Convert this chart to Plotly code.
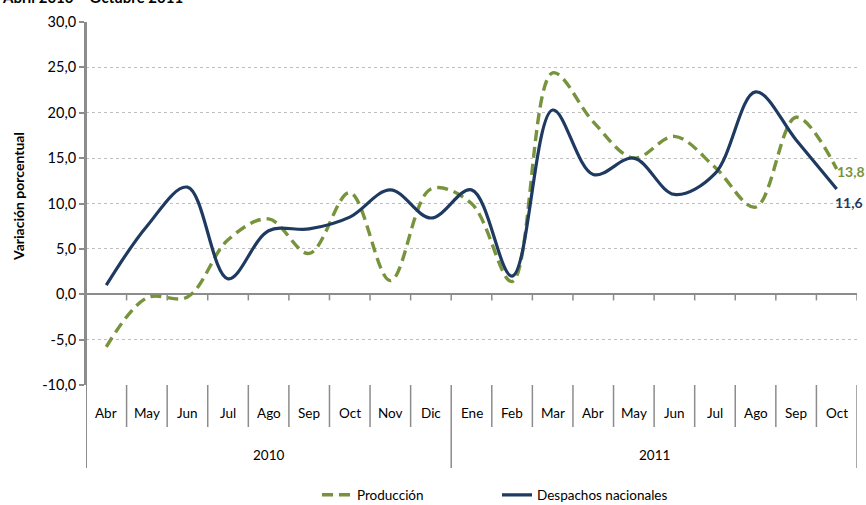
import plotly.graph_objects as go

months = ["Abr", "May", "Jun", "Jul", "Ago", "Sep", "Oct", "Nov", "Dic",
          "Ene", "Feb", "Mar", "Abr", "May", "Jun", "Jul", "Ago", "Sep", "Oct"]
years = ["2010", "2011"]
year_counts = [9, 10]
produccion = [-5.8, -0.4, -0.3, 6.0, 8.3, 4.5, 11.2, 1.5, 11.6, 10.0, 1.4,
              24.4, 19.0, 15.0, 17.4, 14.0, 9.6, 19.5, 13.8]
despachos = [1.0, 7.5, 11.8, 1.7, 7.0, 7.2, 8.5, 11.5, 8.4, 11.5, 2.0,
             20.3, 13.2, 15.0, 11.0, 13.3, 22.3, 17.0, 11.6]
y_ticks = [-10, -5, 0, 5, 10, 15, 20, 25, 30]

GREEN = "#77933C"
NAVY = "#1F3A60"
GRAY = "#8C8C8C"
FONT = "Lato"

W, H = 866, 505
L, R, T, B = 86, 9, 22, 120
ph = H - T - B


def py(p):
    return (H - B - p) / ph


x = list(range(len(months)))

fig = go.Figure()
fig.add_trace(go.Scatter(
    x=x, y=produccion, mode="lines", name="Producción",
    line=dict(color=GREEN, width=3.4, dash="11px,6px", shape="spline", smoothing=1.0)))
fig.add_trace(go.Scatter(
    x=x, y=despachos, mode="lines", name="Despachos nacionales",
    line=dict(color=NAVY, width=3.2, shape="spline", smoothing=1.0)))

shapes = []
n = len(months)
for k in range(n):
    shapes.append(dict(type="line", xref="x", yref="y", x0=k + 0.5, x1=k + 0.5,
                       y0=0, y1=-0.68, line=dict(color=GRAY, width=1.5)))
year_bounds = [-0.5]
acc = -0.5
for c in year_counts:
    acc += c
    year_bounds.append(acc)
for k in range(1, n + 1):
    b = k - 0.5
    is_year = any(abs(b - yb) < 1e-9 for yb in year_bounds)
    shapes.append(dict(type="line", xref="x", yref="paper", x0=b, x1=b,
                       y0=0, y1=py(468 if is_year else 427),
                       line=dict(color=GRAY, width=1.5)))
shapes.append(dict(type="line", xref="x", yref="paper", x0=-0.5, x1=-0.5,
                   y0=1, y1=py(468), line=dict(color=GRAY, width=2)))

annotations = []
for i, m in enumerate(months):
    annotations.append(dict(x=i, y=py(413), xref="x", yref="paper", text=m,
                            xanchor="center", yanchor="middle",
                            showarrow=False, font=dict(family=FONT, size=13.5, color="#000000")))
start = 0
for yr, c in zip(years, year_counts):
    annotations.append(dict(x=start + (c - 1) / 2, y=py(455), xref="x", yref="paper",
                            text=yr, showarrow=False, xanchor="center", yanchor="middle",
                            font=dict(family=FONT, size=13.5, color="#000000")))
    start += c

annotations.append(dict(x=x[-1], y=produccion[-1], xref="x", yref="y",
                        text="<b>13,8</b>", showarrow=False, xanchor="left", yanchor="middle",
                        xshift=-2, yshift=-2,
                        font=dict(family=FONT, size=14, color=GREEN)))
annotations.append(dict(x=x[-1], y=despachos[-1], xref="x", yref="y",
                        text="<b>11,6</b>", showarrow=False, xanchor="left", yanchor="middle",
                        xshift=-4, yshift=-14,
                        font=dict(family=FONT, size=14, color=NAVY)))
annotations.append(dict(x=(18 - L) / (W - L - R), y=py(197), xref="paper", yref="paper",
                        text="<b>Variación porcentual</b>", showarrow=False, textangle=-90,
                        xanchor="center", yanchor="middle",
                        font=dict(family=FONT, size=14, color="#000000")))
annotations.append(dict(x=(0 - L) / (W - L - R), y=py(-3), xref="paper", yref="paper",
                        text="<b>Abril 2010 – Octubre 2011</b>", showarrow=False,
                        xanchor="left", yanchor="middle",
                        font=dict(family=FONT, size=15, color="#000000")))

fig.update_layout(
    width=W, height=H,
    margin=dict(l=L, r=R, t=T, b=B, autoexpand=False),
    plot_bgcolor="white", paper_bgcolor="white",
    font=dict(family=FONT, size=13, color="#000000"),
    shapes=shapes, annotations=annotations,
    showlegend=True,
    legend=dict(orientation="h", x=(317 - L) / (W - L - R), xanchor="left",
                y=py(495), yanchor="middle", entrywidth=135,
                font=dict(family=FONT, size=13.5, color="#000000"),
                bgcolor="rgba(0,0,0,0)"),
    xaxis=dict(range=[-0.5, n - 0.5], showticklabels=False, showgrid=False,
               zeroline=False, showline=False, ticks="", automargin=False),
    yaxis=dict(range=[-10, 30], tickvals=y_ticks, automargin=False,
               ticktext=[f"{v:.1f}".replace(".", ",") for v in y_ticks],
               showgrid=True, gridcolor="#BFBFBF", griddash="dot", gridwidth=1,
               zeroline=True, zerolinecolor=GRAY, zerolinewidth=2,
               showline=True, linecolor=GRAY, linewidth=2,
               ticks="outside", ticklen=5, tickcolor=GRAY, tickwidth=1.5,
               tickfont=dict(family=FONT, size=14.5, color="#000000")),
)

fig.write_html("out.html", config={"displayModeBar": False},
               post_script="document.body.style.margin='0';document.body.style.overflow='hidden';")
